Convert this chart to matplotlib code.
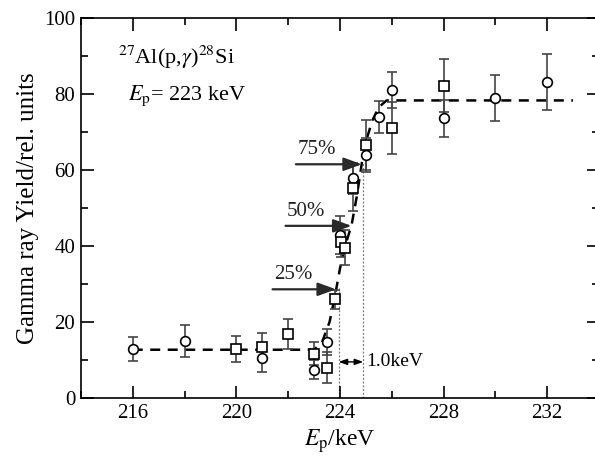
import matplotlib
matplotlib.use('Agg')
import matplotlib.pyplot as plt
from matplotlib.ticker import MultipleLocator

plt.rcParams['font.family'] = ['Liberation Serif', 'DejaVu Serif']
plt.rcParams['mathtext.fontset'] = 'stix'

# open circles
circ_x = [216, 218, 221, 223, 223.5, 224.0, 224.5, 225.0, 225.5, 226.0, 228, 230, 232]
circ_y = [12.9, 14.9, 10.6, 7.4, 14.7, 42.9, 57.8, 64.0, 73.9, 81.0, 73.6, 79.0, 83.2]
circ_err = [3.2, 4.2, 3.7, 2.5, 3.5, 5.0, 4.0, 4.5, 4.3, 4.7, 4.8, 6.1, 7.4]

# open squares
sq_x = [220, 221, 222, 223, 223.5, 223.8, 224.05, 224.2, 224.5, 225.0, 226.0, 228]
sq_y = [12.9, 13.5, 16.8, 11.7, 8.0, 26.0, 41.0, 39.6, 55.2, 66.6, 71.0, 82.2]
sq_err = [3.4, 3.6, 3.9, 3.0, 4.0, 2.5, 4.0, 4.5, 6.0, 6.5, 6.8, 7.0]

# dashed fit curve
fit_x = [216, 223.0, 223.3, 223.6, 223.8, 224.0, 224.2, 224.45, 224.65, 224.85, 225.05, 225.25, 225.5, 225.8, 233.0]
fit_y = [12.7, 12.7, 14.5, 20.0, 26.5, 34.0, 40.0, 45.5, 53.0, 62.0, 68.5, 73.0, 76.5, 78.3, 78.3]

# level arrows
arr_labels = ['25%', '50%', '75%']
arr_x0 = [221.4, 221.9, 222.3]
arr_x1 = [223.85, 224.45, 224.85]
arr_y = [28.6, 45.3, 61.5]

dot_x = [223.95, 224.9]
dot_top = [29.0, 62.0]

fig = plt.figure(figsize=(5.95, 4.68), dpi=100)
ax = fig.add_axes([0.136, 0.1496, 0.8706, 0.812])

ax.plot(fit_x, fit_y, color='black', lw=1.8, dashes=(4, 3), zorder=2)

eb = dict(ecolor='#444444', elinewidth=1.2, capsize=3.5, capthick=1.2,
          markerfacecolor='white', markeredgecolor='black', markeredgewidth=1.2,
          linestyle='none', markersize=7, zorder=3)
ax.errorbar(circ_x, circ_y, yerr=circ_err, fmt='o', **eb)
ax.errorbar(sq_x, sq_y, yerr=sq_err, fmt='s', **dict(eb, markersize=6.5))

for x, t in zip(dot_x, dot_top):
    ax.plot([x, x], [0, t], color='#777777', lw=0.9, ls=(0, (1.5, 1.5)), zorder=1)

for lab, x0, x1, y in zip(arr_labels, arr_x0, arr_x1, arr_y):
    ax.annotate('', xy=(x1, y), xytext=(x0, y),
                arrowprops=dict(arrowstyle='-|>,head_length=1.1,head_width=0.4',
                                color='#2a2a2a', lw=1.6, shrinkA=0, shrinkB=0),
                zorder=4)
    ax.text(x0 + 0.05, y + 1.4, lab, fontsize=15, ha='left', va='bottom', color='#222222')

ax.annotate('', xy=(dot_x[0], 9.5), xytext=(dot_x[1], 9.5),
            arrowprops=dict(arrowstyle='<|-|>,head_length=0.5,head_width=0.18',
                            color='black', lw=1.0, shrinkA=0, shrinkB=0))
ax.text(dot_x[1] + 0.1, 9.5, '1.0keV', fontsize=14, ha='left', va='center')

ax.text(215.45, 89.5, r'$^{27}$Al(p,$\gamma$)$^{28}$Si', fontsize=16, ha='left', va='center')
ax.text(215.8, 79.5, r'$E_{\rm p}$= 223 keV', fontsize=16, ha='left', va='center')

ax.set_xlim(214, 234)
ax.set_ylim(0, 100)
ax.xaxis.set_major_locator(MultipleLocator(4))
ax.xaxis.set_minor_locator(MultipleLocator(2))
ax.yaxis.set_major_locator(MultipleLocator(20))
ax.yaxis.set_minor_locator(MultipleLocator(10))
ax.tick_params(which='both', direction='in', top=True, right=True, labelsize=15, width=1.2)
ax.tick_params(which='major', length=9, pad=4)
ax.tick_params(which='minor', length=5)
for s in ax.spines.values():
    s.set_linewidth(1.2)

ax.set_xlabel(r'$E_{\rm p}$/keV', fontsize=17, labelpad=3)
ax.set_ylabel('Gamma ray Yield/rel. units', fontsize=18, labelpad=4)

fig.savefig('out.png', dpi=100)
